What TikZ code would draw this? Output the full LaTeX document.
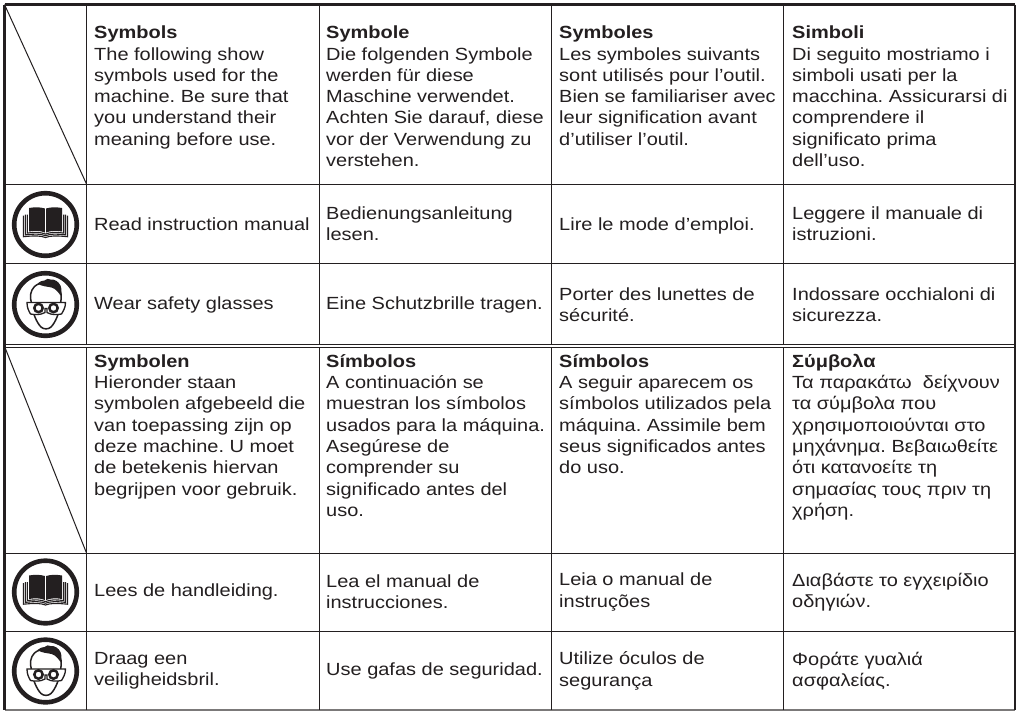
\documentclass[tikz,border=0pt]{standalone}
\usepackage{fontspec}
\setmainfont[FakeStretch=1.135]{Liberation Sans}
\definecolor{ink}{HTML}{231F20}
\tikzset{
  x=1pt,y=-1pt,
  head/.style={anchor=north west,inner sep=0pt,align=left,text=ink,font=\fontsize{17.6pt}{21.3pt}\selectfont\frenchspacing},
  cell/.style={anchor=west,inner sep=0pt,align=left,text=ink,font=\fontsize{17.6pt}{21.3pt}\selectfont\frenchspacing},
  thin rule/.style={draw=ink,line width=1pt},
  thick rule/.style={draw=ink,line width=2.6pt},
  bookicon/.pic={
    \draw[ink,line width=4.6pt] (0,0) circle[radius=31.3];
    \fill[ink] (-16.5,-16.5) .. controls (-11,-17.5) and (-5,-17.5) .. (-0.7,-16) -- (-0.7,8) .. controls (-5,6) and (-11,6) .. (-16.5,7) -- cycle;
    \fill[ink] (0.7,-16) .. controls (5,-17.5) and (11,-17.5) .. (16.5,-16.5) -- (16.5,7) .. controls (11,6) and (5,6) .. (0.7,8) -- cycle;
    \draw[ink,line width=1.1pt] (-18.2,-10) -- (-18.2,8.6) .. controls (-10,7.4) and (-5,7.6) .. (0,9.6) .. controls (5,7.6) and (10,7.4) .. (18.2,8.6) -- (18.2,-10);
    \draw[ink,line width=1.1pt] (-20,-10) -- (-20,10.4) .. controls (-10,9.2) and (-5,9.4) .. (0,11.2) .. controls (5,9.4) and (10,9.2) .. (20,10.4) -- (20,-10);
    \draw[ink,line width=1.1pt] (-22,-9) -- (-22,12.2) .. controls (-10,11) and (-5,11.2) .. (0,13) .. controls (5,11.2) and (10,11) .. (22,12.2) -- (22,-9);
  },
  faceicon/.pic={
    \draw[ink,line width=4.6pt] (0,0) circle[radius=31.3];
    \draw[ink,line width=1.5pt,fill=white] (-14,-1) .. controls (-16,-8) and (-15,-14) .. (-11,-18) .. controls (-6,-23) and (7,-23) .. (12,-18) .. controls (16,-14) and (16.5,-8) .. (15,-1) .. controls (14,8) and (10,18) .. (5.5,22.5) .. controls (3,25) and (-2,25) .. (-4.5,22.5) .. controls (-9,18) and (-13,8) .. (-14,-1) -- cycle;
    \fill[ink] (-8,-21) .. controls (-5,-22) and (-4,-25) .. (-1,-24) .. controls (1,-26) and (3,-26) .. (5,-25) .. controls (9,-25.5) and (13,-23) .. (15,-19) .. controls (16.5,-15) and (16,-11) .. (15,-9) .. controls (13,-12) and (10,-16) .. (6,-17) .. controls (2,-18) and (-4,-18) .. (-8,-21) -- cycle;
    \draw[ink,line width=1.3pt,fill=white] (-18.5,-2) -- (-0.5,-2) .. controls (0.5,-1.4) and (0.5,-1.4) .. (1.5,-2) -- (20,-2) .. controls (20,3) and (18,6) .. (16,9.5) .. controls (11,10.5) and (6,10.5) .. (1.5,8) -- (1.5,4) -- (-0.5,4) -- (-0.5,8) .. controls (-5,10.5) and (-10,10.5) .. (-15,9.5) .. controls (-17,6) and (-18.5,3) .. (-18.5,-2) -- cycle;
    \draw[ink,line width=2.5pt] (-7,3.5) circle[radius=4.2] (8,3.5) circle[radius=4.2];
  },
}
\begin{document}
\begin{tikzpicture}
\useasboundingbox (0,0) rectangle (1019,712);
\fill[white] (0,0) rectangle (1019,712);
% horizontal rules
\coordinate (tl) at (4.5,4.5); \coordinate (tr) at (1015,4.5);
\coordinate (bl) at (4.5,710); \coordinate (br) at (1015,710);
\foreach \yy in {184,263,344,347.5,553,631}{\draw[thin rule] (4.5,\yy) -- (1015,\yy);}
\draw[draw=ink!60,line width=1.2pt] (bl) -- (br);
% vertical rules
\foreach \xx in {86.5,319.5,551,783}{\draw[thin rule] (\xx,4.5) -- (\xx,344) (\xx,347.5) -- (\xx,710);}
\draw[thick rule] (tl) -- (tr);
\draw[thick rule] (tl) -- (bl);
\draw[thick rule] (tr) -- (br);
% diagonals
\draw[thin rule] (tl) -- (86.5,184);
\draw[thin rule] (5,347.5) -- (86.5,553);
% icons
\pic at (45.5,224.5) {bookicon};
\pic at (45.5,304.5) {faceicon};
\pic at (45.5,592) {bookicon};
\pic at (45.5,671) {faceicon};
% header row 1
\newcommand{\st}{\rule{0pt}{14pt}}
\node[head] (h11) at (94,24.5) {\st\textbf{Symbols}\\The following show\\symbols used for the\\machine. Be sure that\\you understand their\\meaning before use.};
\node[head] (h12) at (326,24.5) {\st\textbf{Symbole}\\Die folgenden Symbole\\werden für diese\\Maschine verwendet.\\Achten Sie darauf, diese\\vor der Verwendung zu\\verstehen.};
\node[head] (h13) at (559,24.5) {\st\textbf{Symboles}\\Les symboles suivants\\sont utilisés pour l’outil.\\Bien se familiariser avec\\leur signification avant\\d’utiliser l’outil.};
\node[head] (h14) at (792,24.5) {\st\textbf{Simboli}\\Di seguito mostriamo i\\simboli usati per la\\macchina. Assicurarsi di\\comprendere il\\significato prima\\dell’uso.};
% row 2
\node[cell] (c21) at (94,224) {Read instruction manual};
\node[cell] (c22) at (326,224) {Bedienungsanleitung\\lesen.};
\node[cell] (c23) at (559,226) {Lire le mode d’emploi.};
\node[cell] (c24) at (792,224) {Leggere il manuale di\\istruzioni.};
% row 3
\node[cell] (c31) at (94,305) {Wear safety glasses};
\node[cell] (c32) at (326,305) {Eine Schutzbrille tragen.};
\node[cell] (c33) at (559,305) {Porter des lunettes de\\sécurité.};
\node[cell] (c34) at (792,305) {Indossare occhialoni di\\sicurezza.};
% header row 2
\node[head] (h21) at (94,353) {\st\textbf{Symbolen}\\Hieronder staan\\symbolen afgebeeld die\\van toepassing zijn op\\deze machine. U moet\\de betekenis hiervan\\begrijpen voor gebruik.};
\node[head] (h22) at (326,353) {\st\textbf{Símbolos}\\A continuación se\\muestran los símbolos\\usados para la máquina.\\Asegúrese de\\comprender su\\significado antes del\\uso.};
\node[head] (h23) at (559,353) {\st\textbf{Símbolos}\\A seguir aparecem os\\símbolos utilizados pela\\máquina. Assimile bem\\seus significados antes\\do uso.};
\node[head] (h24) at (792,353) {\st\textbf{Σύμβολα}\\Τα παρακάτω\ \ δείχνουν\\τα σύμβολα που\\χρησιμοποιούνται στο\\μηχάνημα. Βεβαιωθείτε\\ότι κατανοείτε τη\\σημασίας τους πριν τη\\χρήση.};
% row 5
\node[cell] (c51) at (94,592) {Lees de handleiding.};
\node[cell] (c52) at (326,592) {Lea el manual de\\instrucciones.};
\node[cell] (c53) at (559,592) {Leia o manual de\\instruções};
\node[cell] (c54) at (792,592) {Διαβάστε το εγχειρίδιο\\οδηγιών.};
% row 6
\node[cell] (c61) at (94,671) {Draag een\\veiligheidsbril.};
\node[cell] (c62) at (326,671) {Use gafas de seguridad.};
\node[cell] (c63) at (559,671) {Utilize óculos de\\segurança};
\node[cell] (c64) at (792,671) {Φοράτε γυαλιά\\ασφαλείας.};
\end{tikzpicture}
\end{document}
